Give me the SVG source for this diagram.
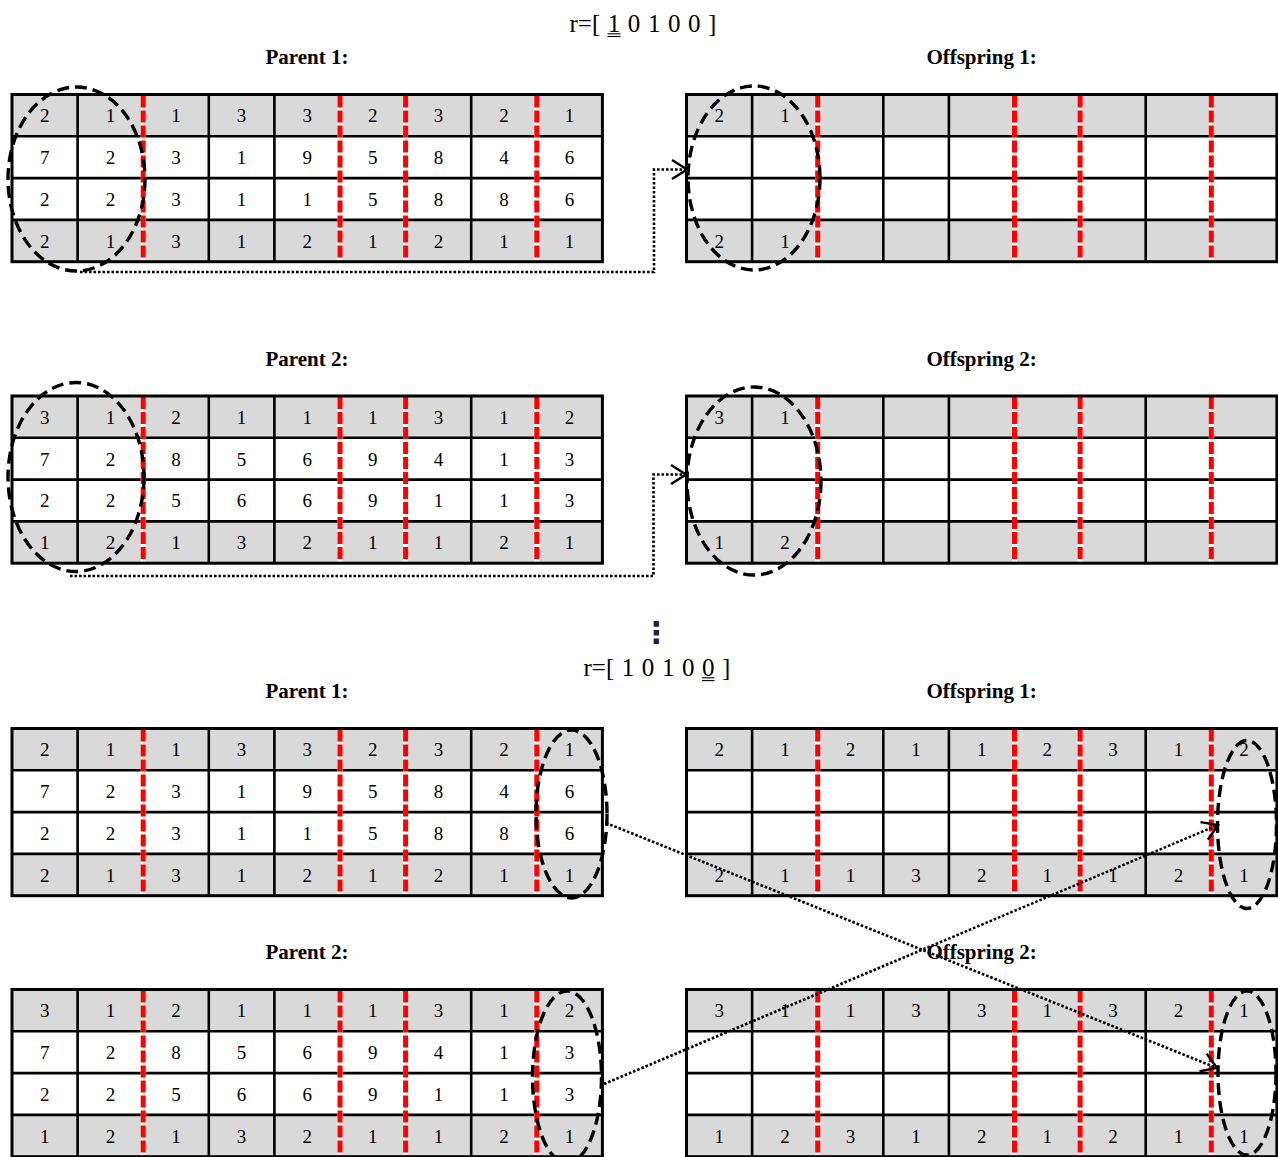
<svg xmlns="http://www.w3.org/2000/svg" xmlns:xlink="http://www.w3.org/1999/xlink" width="1278" height="1157" viewBox="0 0 1278 1157">
<style>
.c{font-family:"Liberation Serif","Times New Roman",serif;font-size:19px;text-anchor:middle;fill:#000}
.lbl{font-family:"Liberation Serif","Times New Roman",serif;font-size:21px;font-weight:bold;text-anchor:middle;fill:#000}
.ttl{font-family:"Liberation Serif","Times New Roman",serif;font-size:25px;fill:#000;word-spacing:1.3px}
.gray{fill:#d9d9d9}
.inner{stroke:#000;stroke-width:2.6;fill:none}
.redu{stroke:#fff;stroke-width:5;fill:none}
.red{stroke:#ff0000;stroke-width:5;stroke-dasharray:12 3;fill:none}
.border{fill:none;stroke:#000;stroke-width:3}
.hl{fill:none;stroke:#000;stroke-width:3.4;stroke-dasharray:12 6}
.conn{fill:none;stroke:#000;stroke-width:2.6;stroke-dasharray:2.6 1.9}
.ul{stroke:#000;stroke-width:1.1}
</style>
<defs>
<marker id="arr" markerUnits="userSpaceOnUse" markerWidth="20" markerHeight="24" viewBox="0 0 20 24" refX="18" refY="12" orient="auto">
<path d="M3,2.5 L18,12 L3,21.5" fill="none" stroke="#000" stroke-width="2.4" stroke-dasharray="none"/>
</marker>
<g id="grid">
<rect width="590.4" height="167.2" fill="#fff"/>
<rect class="gray" width="590.4" height="41.8"/>
<rect class="gray" y="125.4" width="590.4" height="41.8"/>
<path class="inner" d="M0,41.8H590.4M0,83.6H590.4M0,125.4H590.4M65.6,0V167.2M196.8,0V167.2M262.4,0V167.2M459.2,0V167.2"/>
<path class="redu" d="M131.2,1V166.2M328,1V166.2M393.6,1V166.2M524.8,1V166.2"/>
<path class="red" d="M131.2,1V166.2M328,1V166.2M393.6,1V166.2M524.8,1V166.2"/>
<rect class="border" width="590.4" height="167.2"/>
</g>
</defs>
<rect width="1278" height="1157" fill="#fff"/>

<g id="title-top">
<text class="ttl" x="569.5" y="32">r=[ 1 0 1 0 0 ]</text>
<line class="ul" x1="607.5" y1="33.8" x2="620.5" y2="33.8"/>
<line class="ul" x1="607.5" y1="36.5" x2="620.5" y2="36.5"/>
</g>

<g id="parent1-top" transform="translate(12,94.5)">
<text class="lbl" x="295" y="-30.5">Parent 1:</text>
<use xlink:href="#grid" href="#grid"/>
<text class="c" x="32.8 98.4 164 229.6 295.2 360.8 426.4 492 557.6" y="27.7">211332321</text>
<text class="c" x="32.8 98.4 164 229.6 295.2 360.8 426.4 492 557.6" y="69.5">723195846</text>
<text class="c" x="32.8 98.4 164 229.6 295.2 360.8 426.4 492 557.6" y="111.3">223115886</text>
<text class="c" x="32.8 98.4 164 229.6 295.2 360.8 426.4 492 557.6" y="153.1">213121211</text>
</g>

<g id="offspring1-top" transform="translate(686.5,94.5)">
<text class="lbl" x="295" y="-30.5">Offspring 1:</text>
<use xlink:href="#grid" href="#grid"/>
<text class="c" x="32.8 98.4" y="27.7">21</text>
<text class="c" x="32.8 98.4" y="153.1">21</text>
</g>

<g id="parent2-top" transform="translate(12,396)">
<text class="lbl" x="295" y="-30">Parent 2:</text>
<use xlink:href="#grid" href="#grid"/>
<text class="c" x="32.8 98.4 164 229.6 295.2 360.8 426.4 492 557.6" y="27.7">312111312</text>
<text class="c" x="32.8 98.4 164 229.6 295.2 360.8 426.4 492 557.6" y="69.5">728569413</text>
<text class="c" x="32.8 98.4 164 229.6 295.2 360.8 426.4 492 557.6" y="111.3">225669113</text>
<text class="c" x="32.8 98.4 164 229.6 295.2 360.8 426.4 492 557.6" y="153.1">121321121</text>
</g>

<g id="offspring2-top" transform="translate(686.5,396)">
<text class="lbl" x="295" y="-30">Offspring 2:</text>
<use xlink:href="#grid" href="#grid"/>
<text class="c" x="32.8 98.4" y="27.7">31</text>
<text class="c" x="32.8 98.4" y="153.1">12</text>
</g>

<g id="ellipsis">
<text x="656.5" y="643" font-family="DejaVu Sans, sans-serif" font-size="30" font-weight="bold" text-anchor="middle" fill="#1c1c4a">⋮</text>
</g>

<g id="title-bottom">
<text class="ttl" x="583.5" y="676">r=[ 1 0 1 0 0 ]</text>
<line class="ul" x1="702" y1="677.8" x2="714.5" y2="677.8"/>
<line class="ul" x1="702" y1="680.6" x2="714.5" y2="680.6"/>
</g>

<g id="parent1-bottom" transform="translate(12,728.5)">
<text class="lbl" x="295" y="-30.5">Parent 1:</text>
<use xlink:href="#grid" href="#grid"/>
<text class="c" x="32.8 98.4 164 229.6 295.2 360.8 426.4 492 557.6" y="27.7">211332321</text>
<text class="c" x="32.8 98.4 164 229.6 295.2 360.8 426.4 492 557.6" y="69.5">723195846</text>
<text class="c" x="32.8 98.4 164 229.6 295.2 360.8 426.4 492 557.6" y="111.3">223115886</text>
<text class="c" x="32.8 98.4 164 229.6 295.2 360.8 426.4 492 557.6" y="153.1">213121211</text>
</g>

<g id="offspring1-bottom" transform="translate(686.5,728.5)">
<text class="lbl" x="295" y="-30.5">Offspring 1:</text>
<use xlink:href="#grid" href="#grid"/>
<text class="c" x="32.8 98.4 164 229.6 295.2 360.8 426.4 492 557.6" y="27.7">212112312</text>
<text class="c" x="32.8 98.4 164 229.6 295.2 360.8 426.4 492 557.6" y="153.1">211321121</text>
</g>

<g id="parent2-bottom" transform="translate(12,989.5)">
<text class="lbl" x="295" y="-30.5">Parent 2:</text>
<use xlink:href="#grid" href="#grid"/>
<text class="c" x="32.8 98.4 164 229.6 295.2 360.8 426.4 492 557.6" y="27.7">312111312</text>
<text class="c" x="32.8 98.4 164 229.6 295.2 360.8 426.4 492 557.6" y="69.5">728569413</text>
<text class="c" x="32.8 98.4 164 229.6 295.2 360.8 426.4 492 557.6" y="111.3">225669113</text>
<text class="c" x="32.8 98.4 164 229.6 295.2 360.8 426.4 492 557.6" y="153.1">121321121</text>
</g>

<g id="offspring2-bottom" transform="translate(686.5,989.5)">
<text class="lbl" x="295" y="-30.5">Offspring 2:</text>
<use xlink:href="#grid" href="#grid"/>
<text class="c" x="32.8 98.4 164 229.6 295.2 360.8 426.4 492 557.6" y="27.7">311331321</text>
<text class="c" x="32.8 98.4 164 229.6 295.2 360.8 426.4 492 557.6" y="153.1">123121211</text>
</g>

<g id="highlights">
<ellipse class="hl" cx="76.5" cy="179" rx="68.5" ry="92"/>
<ellipse class="hl" cx="754" cy="178" rx="66" ry="92"/>
<ellipse class="hl" cx="76" cy="477" rx="68" ry="94.5"/>
<ellipse class="hl" cx="754" cy="481" rx="67" ry="94"/>
<ellipse class="hl" cx="571.5" cy="814" rx="35.5" ry="84"/>
<ellipse class="hl" cx="567" cy="1077" rx="34.5" ry="86"/>
<ellipse class="hl" cx="1247" cy="824.5" rx="29.5" ry="84"/>
<ellipse class="hl" cx="1247" cy="1073" rx="29" ry="82"/>
</g>

<g id="connectors">
<path class="conn" d="M80,272 H654 V169.5 H687" marker-end="url(#arr)"/>
<path class="conn" d="M70,576 H653.5 V474.5 H686" marker-end="url(#arr)"/>
<path class="conn" d="M606,823 L1217,1068" marker-end="url(#arr)"/>
<path class="conn" d="M604,1084 L1218,825" marker-end="url(#arr)"/>
</g>
</svg>
